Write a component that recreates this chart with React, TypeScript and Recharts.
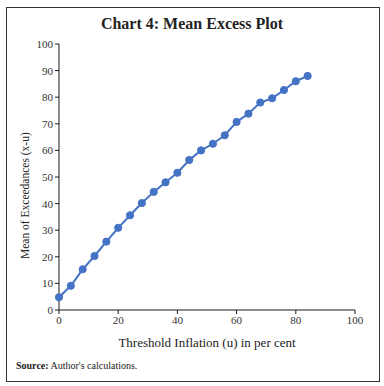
import { LineChart, Line, XAxis, YAxis } from "recharts";

const thresholds = [0, 4, 8, 12, 16, 20, 24, 28, 32, 36, 40, 44, 48, 52, 56, 60, 64, 68, 72, 76, 80, 84];
const meanExcess = [4.8, 9.1, 15.3, 20.3, 25.7, 30.9, 35.6, 40.2, 44.4, 48, 51.6, 56.4, 60, 62.5, 65.7, 70.7, 73.8, 78, 79.6, 82.7, 86, 88];
const xTicks = [0, 20, 40, 60, 80, 100];
const yTicks = [0, 10, 20, 30, 40, 50, 60, 70, 80, 90, 100];

const data = thresholds.map((u, i) => ({ u, me: meanExcess[i] }));

const font = "'Liberation Serif', serif";
const axisColor = "#1a1a1a";

export default function App() {
  return (
    <div style={{ position: "absolute", left: 0, top: 0, width: 384, height: 386, background: "#fff", fontFamily: font }}>
      <div
        style={{
          position: "absolute",
          left: 6,
          top: 7,
          width: 372,
          height: 373,
          border: "1px solid #333",
        }}
      />
      <div
        style={{
          position: "absolute",
          left: 0,
          width: 384,
          top: 15,
          textAlign: "center",
          fontSize: 16,
          fontWeight: "bold",
          color: "#222",
        }}
      >
        Chart 4: Mean Excess Plot
      </div>
      <div style={{ position: "absolute", left: 0, top: 0 }}>
        <LineChart width={384} height={386} data={data} margin={{ top: 44, right: 29, left: 29, bottom: 46 }}>
          <XAxis
            dataKey="u"
            type="number"
            domain={[0, 100]}
            ticks={xTicks}
            height={30}
            axisLine={{ stroke: axisColor }}
            tickLine={{ stroke: axisColor }}
            tickSize={4}
            tick={{ fontSize: 11, fill: "#333", fontFamily: font }}
            label={{
              value: "Threshold Inflation (u) in per cent",
              position: "insideBottom",
              offset: -7,
              fontSize: 13,
              fill: "#222",
              fontFamily: font,
            }}
          />
          <YAxis
            type="number"
            domain={[0, 100]}
            ticks={yTicks}
            width={30}
            axisLine={{ stroke: axisColor }}
            tickLine={{ stroke: axisColor }}
            tickSize={4}
            tick={{ fontSize: 11, fill: "#333", fontFamily: font }}
            label={{
              value: "Mean of Exceedances (x-u)",
              angle: -90,
              position: "insideLeft",
              offset: -4,
              dy: 82,
              fontSize: 11.5,
              fill: "#222",
              fontFamily: font,
            }}
          />
          <Line
            dataKey="me"
            stroke="#4472C4"
            strokeWidth={2}
            dot={{ r: 3.6, fill: "#4472C4", stroke: "#4472C4", strokeWidth: 1 }}
            isAnimationActive={false}
          />
        </LineChart>
      </div>
      <div style={{ position: "absolute", left: 16, top: 360, fontSize: 10, color: "#222" }}>
        <b>Source:</b> Author's calculations.
      </div>
    </div>
  );
}
